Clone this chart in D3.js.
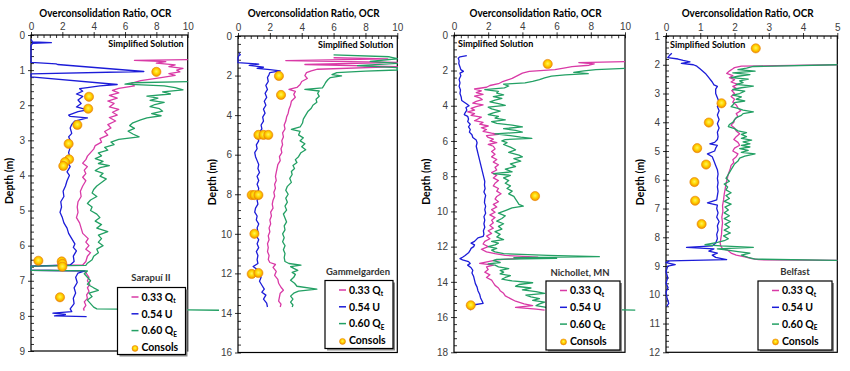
<!DOCTYPE html>
<html>
<head>
<meta charset="utf-8">
<script src="https://cdn.jsdelivr.net/npm/d3@7"></script>
<style>
  body { margin: 0; background: #fff; }
  svg { font-family: Lato, "Open Sans", sans-serif; }
  .tick text { fill: #404040; font-size: 10px; }
  .tick line { stroke: #000; }
</style>
</head>
<body>
<svg class="chart" width="850" height="371"></svg>
<script>
// values: [depth (m), OCR]

// Sarapui II
var sarapuiQt = [[0.7,10],[0.72,6.6],[0.76,8.6],[0.8,8.0],[0.85,9.2],[0.9,8.8],[0.95,9.7],[1.0,9.3],[1.05,9.5],[1.1,8.8],[1.15,9.2],[1.22,8.2],[1.3,7.0],[1.38,6.4],[1.45,6.6],[1.52,5.6],[1.58,5.2],[1.65,5.6],[1.72,5.0],[1.8,5.5],[1.88,4.9],[1.95,5.3],[2.05,5.0],[2.12,5.6],[2.2,5.2],[2.28,5.5],[2.35,5.0],[2.45,5.4],[2.55,4.9],[2.65,5.1],[2.75,4.7],[2.85,4.9],[2.95,4.4],[3.05,4.5],[3.15,4.1],[3.25,4.0],[3.35,3.8],[3.45,3.6],[3.55,3.5],[3.65,3.3],[3.75,3.6],[3.85,3.4],[3.95,3.5],[4.05,3.3],[4.15,3.5],[4.3,3.3],[4.45,3.15],[4.6,3.2],[4.75,3.0],[4.9,2.95],[5.05,3.0],[5.2,2.9],[5.35,3.1],[5.5,3.2],[5.65,3.3],[5.8,3.65],[5.9,3.5],[6.0,3.7],[6.1,3.5],[6.2,3.8],[6.3,3.6],[6.45,3.5],[6.55,3.3],[6.58,0],[6.7,0],[6.72,3.4],[6.8,3.55],[6.9,3.7],[7.0,3.6],[7.1,3.75],[7.2,3.6],[7.3,3.7],[7.4,3.55],[7.5,3.6],[7.6,3.4],[7.7,3.5],[7.8,3.35],[7.85,3.4]];
var sarapuiU = [[0.12,0],[0.2,0.1],[0.22,1.3],[0.24,0.1],[0.3,0],[0.78,0],[0.82,1.6],[0.84,1.7],[1.04,7.2],[1.11,0],[1.19,0],[1.41,5.5],[1.45,4.4],[1.5,3.6],[1.53,3.1],[1.6,3.3],[1.68,2.9],[1.75,3.3],[1.85,3.0],[1.95,3.2],[2.05,2.9],[2.13,3.6],[2.18,3.0],[2.28,2.4],[2.32,2.5],[2.36,3.6],[2.45,2.8],[2.55,2.6],[2.65,2.5],[2.8,2.6],[2.9,2.4],[3.0,2.5],[3.1,2.3],[3.2,2.5],[3.35,2.4],[3.5,2.5],[3.6,2.3],[3.75,2.5],[3.9,2.3],[4.0,2.45],[4.15,2.3],[4.3,2.2],[4.45,2.05],[4.6,2.1],[4.75,1.9],[4.9,1.95],[5.05,1.85],[5.2,2.0],[5.35,2.1],[5.5,2.3],[5.65,2.4],[5.8,2.6],[5.95,2.8],[6.05,2.7],[6.15,2.9],[6.3,2.7],[6.45,2.75],[6.55,2.5],[6.58,0],[6.7,0],[6.72,3.45],[6.78,3.0],[6.9,2.85],[7.05,2.95],[7.2,2.75],[7.35,2.85],[7.5,2.7],[7.65,2.75],[7.8,2.5],[7.88,2.6],[7.92,1.4],[7.96,2.2],[8.0,1.5],[8.02,3.55]];
var sarapuiQe = [[1.33,10],[1.36,6.5],[1.4,6.0],[1.45,8.5],[1.5,9.2],[1.56,9.7],[1.62,8.4],[1.68,8.9],[1.74,7.4],[1.8,8.1],[1.86,7.6],[1.92,8.5],[1.98,7.9],[2.04,7.6],[2.1,8.2],[2.17,8.4],[2.24,7.7],[2.3,8.3],[2.36,7.4],[2.42,7.0],[2.5,6.5],[2.58,6.3],[2.66,6.6],[2.74,6.2],[2.82,6.5],[2.9,6.9],[2.97,5.6],[3.05,5.1],[3.12,5.3],[3.2,4.7],[3.28,4.9],[3.36,4.3],[3.44,4.5],[3.52,4.1],[3.6,4.6],[3.66,4.3],[3.72,5.0],[3.78,4.4],[3.86,4.1],[3.94,4.6],[4.02,4.4],[4.1,4.8],[4.2,4.5],[4.3,4.2],[4.4,4.0],[4.5,3.9],[4.6,4.2],[4.7,3.8],[4.8,3.6],[4.9,3.9],[5.0,3.8],[5.1,4.2],[5.2,4.4],[5.3,4.1],[5.4,4.5],[5.5,4.2],[5.6,4.9],[5.7,4.3],[5.8,4.5],[5.9,4.3],[6.0,4.6],[6.1,4.2],[6.2,4.3],[6.3,4.0],[6.4,3.9],[6.5,3.6],[6.56,3.5],[6.58,0],[6.7,0],[6.72,3.6],[6.8,3.4],[6.9,3.6],[7.0,3.8],[7.1,3.6],[7.2,4.0],[7.27,4.3],[7.35,3.7],[7.45,3.9],[7.55,3.6],[7.65,3.8],[7.75,4.0],[7.8,4.2],[7.83,10],[7.84,12]];
var sarapuiConsols = [[1.05,8.0],[1.76,3.7],[2.1,3.65],[2.56,2.96],[3.1,2.4],[3.54,2.43],[3.62,2.17],[3.73,2.06],[6.43,0.47],[6.45,1.96],[6.52,2.0],[6.6,2.0],[7.47,1.85]];

// Gammelgarden
var gammelQt = [[1.1,6.0],[1.16,9.4],[1.24,3.0],[1.33,10],[1.44,4.2],[1.55,10],[1.68,5.0],[1.76,4.6],[1.85,4.3],[2.0,4.2],[2.15,4.35],[2.3,4.0],[2.45,3.9],[2.6,3.7],[2.7,3.2],[2.8,3.6],[2.95,3.5],[3.1,3.6],[3.3,3.35],[3.5,3.3],[3.7,3.2],[3.9,3.15],[4.1,3.05],[4.3,3.0],[4.5,2.9],[4.7,2.95],[4.9,2.8],[5.1,2.85],[5.3,2.75],[5.5,2.8],[5.7,2.7],[5.9,2.75],[6.1,2.6],[6.3,2.65],[6.5,2.5],[6.7,2.45],[6.9,2.4],[7.1,2.35],[7.3,2.4],[7.5,2.3],[7.7,2.35],[7.9,2.25],[8.1,2.3],[8.3,2.2],[8.5,2.15],[8.7,2.2],[8.9,2.05],[9.1,2.1],[9.3,2.0],[9.5,2.05],[9.7,1.95],[9.9,2.0],[10.1,1.9],[10.3,1.95],[10.5,1.85],[10.7,1.9],[10.9,1.85],[11.1,1.95],[11.3,1.9],[11.45,2.0],[11.55,2.35],[11.7,2.2],[11.9,2.4],[12.1,2.3],[12.3,2.5],[12.5,2.55],[12.7,2.7],[12.85,2.85],[13.0,2.65],[13.2,2.6],[13.4,2.55],[13.55,2.7],[13.7,2.65]];
var gammelU = [[0.85,0.05],[0.95,0.15],[1.0,0.05],[1.1,0.0],[1.35,0.0],[1.42,1.3],[1.48,0.7],[1.52,1.1],[1.58,1.6],[1.64,1.2],[1.7,2.0],[1.76,2.65],[1.85,2.0],[1.95,1.95],[2.1,1.85],[2.3,1.9],[2.5,1.75],[2.7,1.85],[2.9,1.7],[3.1,1.8],[3.3,1.65],[3.5,1.75],[3.7,1.6],[3.9,1.7],[4.1,1.55],[4.3,1.6],[4.5,1.45],[4.7,1.5],[4.9,1.3],[5.1,1.2],[5.3,1.3],[5.5,1.15],[5.7,1.2],[5.9,1.05],[6.1,1.1],[6.3,1.2],[6.5,1.3],[6.7,1.25],[6.9,1.35],[7.1,1.2],[7.3,1.3],[7.5,1.2],[7.7,1.3],[7.9,1.25],[8.1,1.35],[8.3,1.2],[8.5,1.25],[8.7,1.1],[8.9,1.05],[9.1,1.2],[9.3,1.15],[9.5,1.3],[9.7,1.2],[9.9,1.25],[10.1,1.15],[10.3,1.3],[10.5,1.2],[10.7,1.3],[10.9,1.15],[11.1,1.25],[11.3,1.2],[11.5,1.25],[11.65,0.95],[11.8,1.2],[12.0,1.3],[12.2,1.45],[12.4,1.35],[12.6,1.5],[12.8,1.65],[12.95,1.5],[13.1,1.75],[13.3,1.6],[13.5,1.8],[13.7,1.85]];
var gammelQe = [[0.95,6.0],[1.05,9.5],[1.15,10],[1.28,8.3],[1.38,10],[1.5,7.5],[1.6,10],[1.72,10],[1.78,8.0],[1.85,6.2],[1.95,5.9],[2.02,6.5],[2.1,5.8],[2.2,5.65],[2.35,5.5],[2.5,5.4],[2.62,5.3],[2.7,4.2],[2.78,5.1],[2.9,5.0],[3.05,5.1],[3.2,4.9],[3.35,4.95],[3.5,4.7],[3.65,4.6],[3.8,4.4],[4.0,4.25],[4.2,4.1],[4.4,4.05],[4.6,3.9],[4.72,3.35],[4.82,3.9],[5.0,3.8],[5.15,4.1],[5.3,3.9],[5.45,4.2],[5.6,4.0],[5.75,4.25],[5.9,3.95],[6.1,3.8],[6.25,3.6],[6.4,3.7],[6.55,3.45],[6.7,3.55],[6.85,3.35],[7.0,3.4],[7.2,3.25],[7.4,3.35],[7.6,3.1],[7.8,3.0],[8.0,3.15],[8.2,3.0],[8.4,3.1],[8.6,2.95],[8.8,3.05],[9.0,2.85],[9.2,2.95],[9.4,3.05],[9.6,2.9],[9.8,2.95],[10.0,2.8],[10.2,2.9],[10.4,2.8],[10.6,2.95],[10.8,2.85],[11.0,2.95],[11.2,2.9],[11.4,2.95],[11.5,3.2],[11.58,3.95],[11.66,3.3],[11.75,3.5],[11.85,3.75],[11.95,3.4],[12.05,3.6],[12.2,3.5],[12.35,3.3],[12.5,3.55],[12.65,3.7],[12.8,4.95],[12.9,3.8],[13.0,3.5],[13.15,3.3],[13.3,3.45],[13.45,3.3],[13.6,3.45],[13.7,3.4]];
var gammelConsols = [[2.02,2.57],[2.98,2.7],[5.0,1.28],[5.0,1.6],[5.0,1.9],[8.04,0.86],[8.04,1.03],[8.04,1.28],[10.0,1.03],[12.03,0.86],[11.98,1.28]];

// Nichollet, MN
var nicholletQt = [[1.5,10],[1.55,7.3],[1.62,8.2],[1.7,7.9],[1.78,6.9],[1.85,6.5],[1.95,5.9],[2.05,4.4],[2.15,4.0],[2.25,3.8],[2.35,3.6],[2.45,3.4],[2.55,3.1],[2.65,2.8],[2.75,2.6],[2.85,2.1],[2.95,1.9],[3.05,1.2],[3.15,1.6],[3.25,1.3],[3.35,1.7],[3.45,1.2],[3.55,1.5],[3.65,1.65],[3.75,1.3],[3.85,1.1],[3.95,1.7],[4.05,1.3],[4.15,1.0],[4.25,1.2],[4.35,0.8],[4.45,1.2],[4.55,1.0],[4.65,1.6],[4.75,1.4],[4.85,1.2],[4.95,1.7],[5.05,1.5],[5.15,2.0],[5.25,1.6],[5.35,1.9],[5.45,1.7],[5.55,2.2],[5.62,2.6],[5.7,1.9],[5.8,2.0],[5.9,2.3],[6.0,2.1],[6.1,2.5],[6.2,2.0],[6.3,2.3],[6.45,2.4],[6.6,2.2],[6.75,2.4],[6.9,2.2],[7.05,2.5],[7.2,2.3],[7.35,2.6],[7.5,2.4],[7.65,2.5],[7.8,2.2],[7.95,2.5],[8.1,2.3],[8.25,2.6],[8.4,2.4],[8.55,2.3],[8.7,2.6],[8.85,2.5],[9.0,2.75],[9.15,2.5],[9.3,2.4],[9.45,2.6],[9.6,2.3],[9.75,2.5],[9.9,2.2],[10.05,2.4],[10.2,2.1],[10.35,2.4],[10.5,2.2],[10.65,2.3],[10.8,2.1],[10.95,2.3],[11.1,2.0],[11.25,2.2],[11.4,1.9],[11.55,2.1],[11.7,1.8],[11.85,1.7],[12.0,2.0],[12.15,1.6],[12.3,1.9],[12.4,2.4],[12.5,3.0],[12.6,4.9],[12.68,3.6],[12.75,2.5],[12.85,2.0],[12.95,1.5],[13.05,2.3],[13.15,1.9],[13.3,2.0],[13.45,1.8],[13.6,2.1],[13.75,1.9],[13.9,2.2],[14.05,2.3],[14.2,2.4],[14.35,2.6],[14.5,2.7],[14.65,2.9],[14.8,3.0],[14.95,3.3],[15.1,3.6],[15.25,4.1],[15.35,4.6],[15.45,3.6],[15.55,4.8],[15.6,5.3]];
var nicholletU = [[1.15,0.75],[1.22,0.35],[1.3,0.25],[1.45,0.3],[1.6,0.28],[1.8,0.35],[1.95,0.4],[2.05,0.55],[2.15,0.35],[2.3,0.4],[2.5,0.3],[2.7,0.35],[2.9,0.3],[3.1,0.38],[3.3,0.35],[3.5,0.42],[3.7,0.45],[3.8,0.6],[3.9,0.75],[4.0,0.88],[4.1,0.7],[4.25,0.75],[4.4,0.65],[4.5,0.6],[4.6,0.8],[4.75,0.85],[4.9,0.8],[5.05,0.95],[5.2,0.85],[5.35,0.95],[5.5,0.9],[5.65,1.05],[5.8,1.1],[5.95,1.3],[6.1,1.35],[6.3,1.3],[6.5,1.35],[6.7,1.4],[6.9,1.45],[7.1,1.5],[7.3,1.55],[7.5,1.6],[7.7,1.65],[7.9,1.7],[8.1,1.75],[8.3,1.8],[8.5,1.78],[8.7,1.82],[8.9,1.75],[9.1,1.85],[9.3,1.8],[9.5,1.78],[9.7,1.85],[9.9,1.8],[10.1,1.85],[10.3,1.75],[10.5,1.8],[10.7,1.75],[10.9,1.8],[11.1,1.72],[11.3,1.75],[11.42,1.7],[11.5,1.4],[11.6,1.3],[11.7,1.2],[11.8,1.0],[11.9,1.2],[12.0,1.15],[12.1,1.0],[12.2,0.95],[12.35,0.85],[12.5,0.65],[12.6,0.5],[12.68,0.35],[12.75,0.5],[12.85,0.85],[12.95,0.95],[13.05,0.8],[13.2,1.0],[13.35,1.1],[13.5,1.05],[13.7,1.15],[13.9,1.2],[14.1,1.25],[14.3,1.35],[14.5,1.4],[14.7,1.5],[14.9,1.55],[15.1,1.65],[15.22,1.7],[15.3,1.2],[15.4,0.98],[15.5,0.9],[15.6,1.0]];
var nicholletQe = [[1.88,10],[1.95,8.3],[2.02,7.6],[2.1,7.0],[2.18,7.85],[2.25,6.5],[2.32,5.7],[2.42,5.3],[2.52,5.0],[2.62,4.6],[2.7,4.15],[2.78,2.9],[2.88,3.2],[2.98,2.95],[3.08,1.8],[3.18,2.6],[3.28,2.5],[3.38,2.9],[3.48,2.3],[3.58,2.8],[3.68,2.4],[3.78,2.1],[3.88,2.6],[3.98,3.0],[4.08,2.0],[4.18,2.2],[4.3,2.7],[4.4,2.3],[4.5,2.0],[4.6,2.6],[4.7,2.4],[4.8,3.0],[4.9,2.2],[5.0,2.5],[5.1,3.4],[5.2,4.0],[5.3,2.9],[5.4,3.6],[5.5,4.0],[5.6,2.4],[5.7,3.3],[5.78,3.9],[5.85,4.55],[5.92,3.0],[6.0,2.8],[6.1,3.1],[6.2,2.9],[6.35,3.3],[6.5,3.6],[6.65,3.2],[6.8,3.8],[6.9,4.0],[7.0,3.5],[7.15,3.9],[7.3,3.3],[7.45,3.6],[7.6,3.0],[7.75,3.4],[7.85,2.3],[7.95,3.3],[8.1,2.9],[8.25,3.2],[8.4,3.0],[8.55,3.3],[8.7,3.1],[8.85,3.4],[9.0,3.2],[9.15,3.5],[9.3,3.6],[9.45,3.7],[9.6,3.8],[9.7,4.05],[9.8,3.4],[9.95,3.0],[10.1,2.6],[10.25,3.0],[10.4,2.8],[10.55,2.5],[10.7,2.9],[10.85,2.6],[11.0,2.8],[11.15,2.4],[11.3,2.7],[11.45,2.5],[11.6,2.9],[11.7,2.2],[11.8,2.6],[11.9,2.4],[12.0,2.0],[12.1,2.5],[12.2,2.2],[12.3,2.4],[12.4,2.9],[12.5,5.5],[12.57,8.5],[12.62,3.5],[12.67,6.0],[12.72,2.5],[12.8,2.3],[12.9,2.7],[12.98,2.0],[13.05,2.4],[13.15,2.6],[13.25,3.2],[13.35,2.7],[13.45,2.9],[13.55,2.7],[13.65,3.3],[13.75,3.0],[13.85,2.8],[13.95,3.4],[14.05,4.6],[14.15,3.8],[14.25,3.6],[14.35,4.5],[14.45,4.0],[14.55,4.8],[14.65,5.3],[14.75,4.2],[14.85,4.5],[14.95,5.0],[15.05,4.6],[15.15,5.3],[15.25,5.0],[15.35,4.8],[15.45,5.4],[15.52,6.3],[15.6,10.6]];
var nicholletConsols = [[1.63,5.48],[9.13,4.74],[15.33,0.98]];

// Belfast
var belfastQt = [[2.0,5.0],[2.05,2.2],[2.1,2.0],[2.15,1.94],[2.22,1.85],[2.3,1.77],[2.38,1.95],[2.45,1.85],[2.52,2.0],[2.6,1.9],[2.68,2.1],[2.75,1.95],[2.82,2.05],[2.9,1.92],[3.0,2.0],[3.1,1.9],[3.2,2.0],[3.3,1.95],[3.4,2.05],[3.5,2.1],[3.6,2.18],[3.7,2.05],[3.8,2.1],[3.9,2.0],[4.0,1.98],[4.1,1.9],[4.2,2.0],[4.3,2.05],[4.4,2.15],[4.5,2.05],[4.6,1.98],[4.7,2.1],[4.8,2.15],[4.9,2.0],[5.0,1.95],[5.1,2.1],[5.2,2.05],[5.3,1.95],[5.4,1.98],[5.5,1.9],[5.6,1.88],[5.7,1.85],[5.8,1.82],[5.9,1.8],[6.0,1.78],[6.15,1.75],[6.3,1.73],[6.5,1.7],[6.7,1.68],[6.9,1.65],[7.1,1.66],[7.3,1.63],[7.5,1.65],[7.7,1.63],[7.9,1.62],[8.05,1.6],[8.2,1.58],[8.3,1.6],[8.4,1.65],[8.45,1.8],[8.55,1.9],[8.62,2.05],[8.68,2.3],[8.74,2.5],[8.78,2.7],[8.8,5.0]];
var belfastU = [[1.6,0.17],[1.68,0.1],[1.75,0.05],[1.8,0.35],[1.85,0.5],[1.9,0.7],[1.95,0.45],[2.0,0.8],[2.05,0.9],[2.15,1.0],[2.3,1.15],[2.45,1.25],[2.6,1.35],[2.7,1.4],[2.75,1.5],[2.85,1.45],[3.0,1.45],[3.15,1.5],[3.3,1.55],[3.45,1.5],[3.6,1.55],[3.75,1.5],[3.9,1.55],[4.05,1.5],[4.2,1.55],[4.35,1.5],[4.5,1.52],[4.6,1.5],[4.7,1.42],[4.75,1.28],[4.8,1.5],[4.9,1.45],[5.0,1.42],[5.1,1.21],[5.2,1.35],[5.35,1.4],[5.5,1.45],[5.65,1.5],[5.8,1.52],[5.95,1.5],[6.1,1.52],[6.25,1.5],[6.4,1.52],[6.55,1.5],[6.7,1.48],[6.8,1.21],[6.88,1.5],[7.0,1.48],[7.15,1.52],[7.3,1.48],[7.45,1.55],[7.6,1.5],[7.75,1.52],[7.9,1.48],[8.05,1.5],[8.2,1.45],[8.3,1.35],[8.35,0.6],[8.4,1.4],[8.48,1.25],[8.55,1.5],[8.62,1.35],[8.7,1.45],[8.78,1.77],[8.82,0.1],[8.88,0.0],[8.95,0.27],[9.0,0.05],[9.2,0.0],[9.4,0.05],[9.6,0.0],[9.75,0.06],[9.9,0.0],[10.1,0.03],[10.3,0.08],[10.4,0.02]];
var belfastQe = [[2.0,5.0],[2.06,2.55],[2.12,2.35],[2.17,2.1],[2.22,2.6],[2.28,1.95],[2.34,2.45],[2.4,2.1],[2.45,1.9],[2.5,2.4],[2.56,2.15],[2.62,2.25],[2.68,2.05],[2.74,2.55],[2.8,2.2],[2.86,1.95],[2.92,2.3],[3.0,2.15],[3.06,1.95],[3.12,2.2],[3.2,2.05],[3.26,2.3],[3.32,2.0],[3.4,1.95],[3.46,1.9],[3.52,2.1],[3.58,2.25],[3.64,2.55],[3.7,2.25],[3.76,2.2],[3.84,2.05],[3.92,2.0],[4.0,1.95],[4.08,1.85],[4.15,1.82],[4.22,2.0],[4.3,2.1],[4.36,2.35],[4.42,2.2],[4.5,2.35],[4.56,2.2],[4.62,2.5],[4.68,2.25],[4.75,2.45],[4.8,2.2],[4.86,2.45],[4.92,2.15],[4.98,2.4],[5.05,2.2],[5.1,2.6],[5.18,2.3],[5.25,2.15],[5.35,2.1],[5.45,2.0],[5.55,1.95],[5.65,1.9],[5.75,1.85],[5.85,1.8],[5.95,1.75],[6.05,1.85],[6.15,1.7],[6.25,1.8],[6.35,1.75],[6.45,1.9],[6.55,1.75],[6.65,1.85],[6.75,1.7],[6.85,1.9],[6.95,1.72],[7.05,1.82],[7.15,1.7],[7.25,1.85],[7.35,1.7],[7.45,1.88],[7.55,1.72],[7.65,1.85],[7.75,1.7],[7.85,1.88],[7.95,1.68],[8.05,1.82],[8.12,1.7],[8.18,1.5],[8.26,1.14],[8.3,1.6],[8.35,2.55],[8.4,1.5],[8.45,1.8],[8.5,2.1],[8.55,2.45],[8.62,2.2],[8.7,2.4],[8.76,2.6],[8.8,5.0]];
var belfastConsols = [[1.43,2.62],[3.34,1.62],[4.01,1.25],[4.9,0.91],[5.47,1.17],[6.08,0.83],[6.73,0.85],[7.54,1.04]];

var legendLabels = [["0.33 Q", "t"], ["0.54 U", ""], ["0.60 Q", "E"], ["Consols", ""]];

// panel layout (pixels)
var panels = [
    {site: "Sarapuí II", qt: sarapuiQt, u: sarapuiU, qe: sarapuiQe, consols: sarapuiConsols,
     box: [31, 187.7, 35, 351], depth: [0, 9], dStep: 1, ocrMax: 10, oStep: 2,
     yLabX: 9, simple: "right", siteX: 151, siteY: 281, legend: [117.5, 287.5, 68, 67]},
    {site: "Gammelgarden", qt: gammelQt, u: gammelU, qe: gammelQe, consols: gammelConsols,
     box: [238, 397.3, 36, 352.5], depth: [0, 16], dStep: 2, ocrMax: 10, oStep: 2,
     yLabX: 212, simple: "right", siteX: 358, siteY: 275, legend: [325, 280.5, 68, 68]},
    {site: "Nichollet, MN", qt: nicholletQt, u: nicholletU, qe: nicholletQe, consols: nicholletConsols,
     box: [454, 625, 35.3, 352.3], depth: [0, 18], dStep: 2, ocrMax: 10, oStep: 2,
     yLabX: 426, simple: "left", siteX: 580, siteY: 276, legend: [546, 281, 74, 69]},
    {site: "Belfast", qt: belfastQt, u: belfastU, qe: belfastQe, consols: belfastConsols,
     box: [666, 837.3, 36, 352.3], depth: [1, 12], dStep: 1, ocrMax: 5, oStep: 1,
     yLabX: 640, simple: "left", siteX: 795, siteY: 275, legend: [758, 281, 74, 69]}
];

var colors = {qt: "#d93aa6", u: "#1c1cd8", qe: "#23a064"};

var svg = d3.select(".chart");

// orange/yellow bead used for the consolidation tests
var grad = svg.append("defs").append("radialGradient")
    .attr("id", "bead").attr("cx", "50%").attr("cy", "45%").attr("r", "55%");
grad.append("stop").attr("offset", "0%").attr("stop-color", "#fff45a");
grad.append("stop").attr("offset", "50%").attr("stop-color", "#ffd400");
grad.append("stop").attr("offset", "100%").attr("stop-color", "#ef8a00");

panels.forEach(drawPanel);

function drawPanel(p) {
    var left = p.box[0], right = p.box[1], top = p.box[2], bottom = p.box[3];
    var x = d3.scaleLinear().domain([0, p.ocrMax]).range([left, right]);
    var y = d3.scaleLinear().domain(p.depth).range([top, bottom]);
    var g = svg.append("g");

    var xMajor = d3.range(0, p.ocrMax + 1e-6, p.oStep);
    var xMinor = d3.range(0, p.ocrMax + 1e-6, p.oStep / 5);
    var yMajor = d3.range(p.depth[0], p.depth[1] + 1e-6, p.dStep);
    var yMinor = d3.range(p.depth[0], p.depth[1] + 1e-6, p.dStep / 5);

    // major ticks + labels (outside), then inner ticks
    g.append("g").attr("transform", "translate(0," + top + ")")
        .call(d3.axisTop(x).tickValues(xMajor).tickSize(3).tickPadding(2).tickFormat(d3.format("d")))
        .call(function(a) { a.select(".domain").remove(); });
    g.append("g").attr("transform", "translate(0," + top + ")")
        .call(d3.axisTop(x).tickValues(xMinor).tickSize(-3).tickFormat(""))
        .call(function(a) { a.select(".domain").remove(); });
    g.append("g").attr("transform", "translate(" + left + ",0)")
        .call(d3.axisLeft(y).tickValues(yMajor).tickSize(3).tickPadding(3).tickFormat(d3.format("d")))
        .call(function(a) { a.select(".domain").remove(); });
    g.append("g").attr("transform", "translate(" + left + ",0)")
        .call(d3.axisLeft(y).tickValues(yMinor).tickSize(-3).tickFormat(""))
        .call(function(a) { a.select(".domain").remove(); });
    g.selectAll(".tick line").attr("stroke-width", 0.8);

    g.append("rect")
        .attr("x", left).attr("y", top)
        .attr("width", right - left).attr("height", bottom - top)
        .attr("fill", "none").attr("stroke", "#000").attr("stroke-width", 1.2);

    // titles
    g.append("text")
        .attr("x", (left + right) / 2 - 4).attr("y", 17)
        .attr("text-anchor", "middle")
        .attr("textLength", 132).attr("lengthAdjust", "spacingAndGlyphs")
        .style("font-weight", "bold").style("font-size", "11px")
        .text("Overconsolidation Ratio, OCR");

    g.append("text")
        .attr("transform", "translate(" + p.yLabX + "," + ((top + bottom) / 2 - 12) + ") rotate(-90)")
        .attr("text-anchor", "middle").attr("dy", "0.35em")
        .style("font-weight", "bold").style("font-size", "10.5px")
        .text("Depth (m)");

    g.append("text")
        .attr("x", p.simple === "right" ? right - 4 : left + 4)
        .attr("y", top + 12)
        .attr("text-anchor", p.simple === "right" ? "end" : "start")
        .style("font-weight", "bold").style("font-size", "9px")
        .text("Simplified Solution");

    // profiles
    var line = d3.line()
        .x(function(d) { return x(d[1]); })
        .y(function(d) { return y(d[0]); });

    [["qt", p.qt], ["u", p.u], ["qe", p.qe]].forEach(function(s) {
        g.append("path")
            .datum(s[1])
            .attr("d", line)
            .attr("fill", "none")
            .attr("stroke", colors[s[0]])
            .attr("stroke-width", 1.3)
            .attr("stroke-linejoin", "round");
    });

    g.selectAll(".consol")
        .data(p.consols)
        .enter().append("circle")
        .attr("class", "consol")
        .attr("cx", function(d) { return x(d[1]); })
        .attr("cy", function(d) { return y(d[0]); })
        .attr("r", 4.6)
        .attr("fill", "url(#bead)")
        .attr("stroke", "#e98400").attr("stroke-width", 0.6);

    // site name + legend box
    g.append("text")
        .attr("x", p.siteX).attr("y", p.siteY)
        .attr("text-anchor", "middle")
        .style("font-weight", "bold").style("font-size", "9.5px").style("fill", "#333")
        .text(p.site);

    var lx = p.legend[0], ly = p.legend[1], lw = p.legend[2], lh = p.legend[3];
    g.append("rect").attr("x", lx + 2).attr("y", ly + 2).attr("width", lw).attr("height", lh)
        .attr("fill", "#8a8a8a");
    g.append("rect").attr("x", lx).attr("y", ly).attr("width", lw).attr("height", lh)
        .attr("fill", "#fff").attr("stroke", "#000").attr("stroke-width", 1.2);

    var keys = ["qt", "u", "qe", "consols"];
    legendLabels.forEach(function(lab, i) {
        var ry = ly + 9.5 + i * 16.8;
        if (keys[i] === "consols") {
            g.append("circle").attr("cx", lx + 17.5).attr("cy", ry + 1).attr("r", 3)
                .attr("fill", "url(#bead)").attr("stroke", "#e98400").attr("stroke-width", 0.5);
        } else {
            g.append("line")
                .attr("x1", lx + 14).attr("x2", lx + 21).attr("y1", ry).attr("y2", ry)
                .attr("stroke", colors[keys[i]]).attr("stroke-width", 1.5);
        }
        var t = g.append("text")
            .attr("x", lx + 24).attr("y", ry + 3.8)
            .style("font-weight", "bold").style("font-size", "10.5px")
            .text(lab[0]);
        if (lab[1]) {
            t.append("tspan").attr("dy", 2.5).style("font-size", "6.5px").text(lab[1]);
        }
    });
}
</script>
</body>
</html>
